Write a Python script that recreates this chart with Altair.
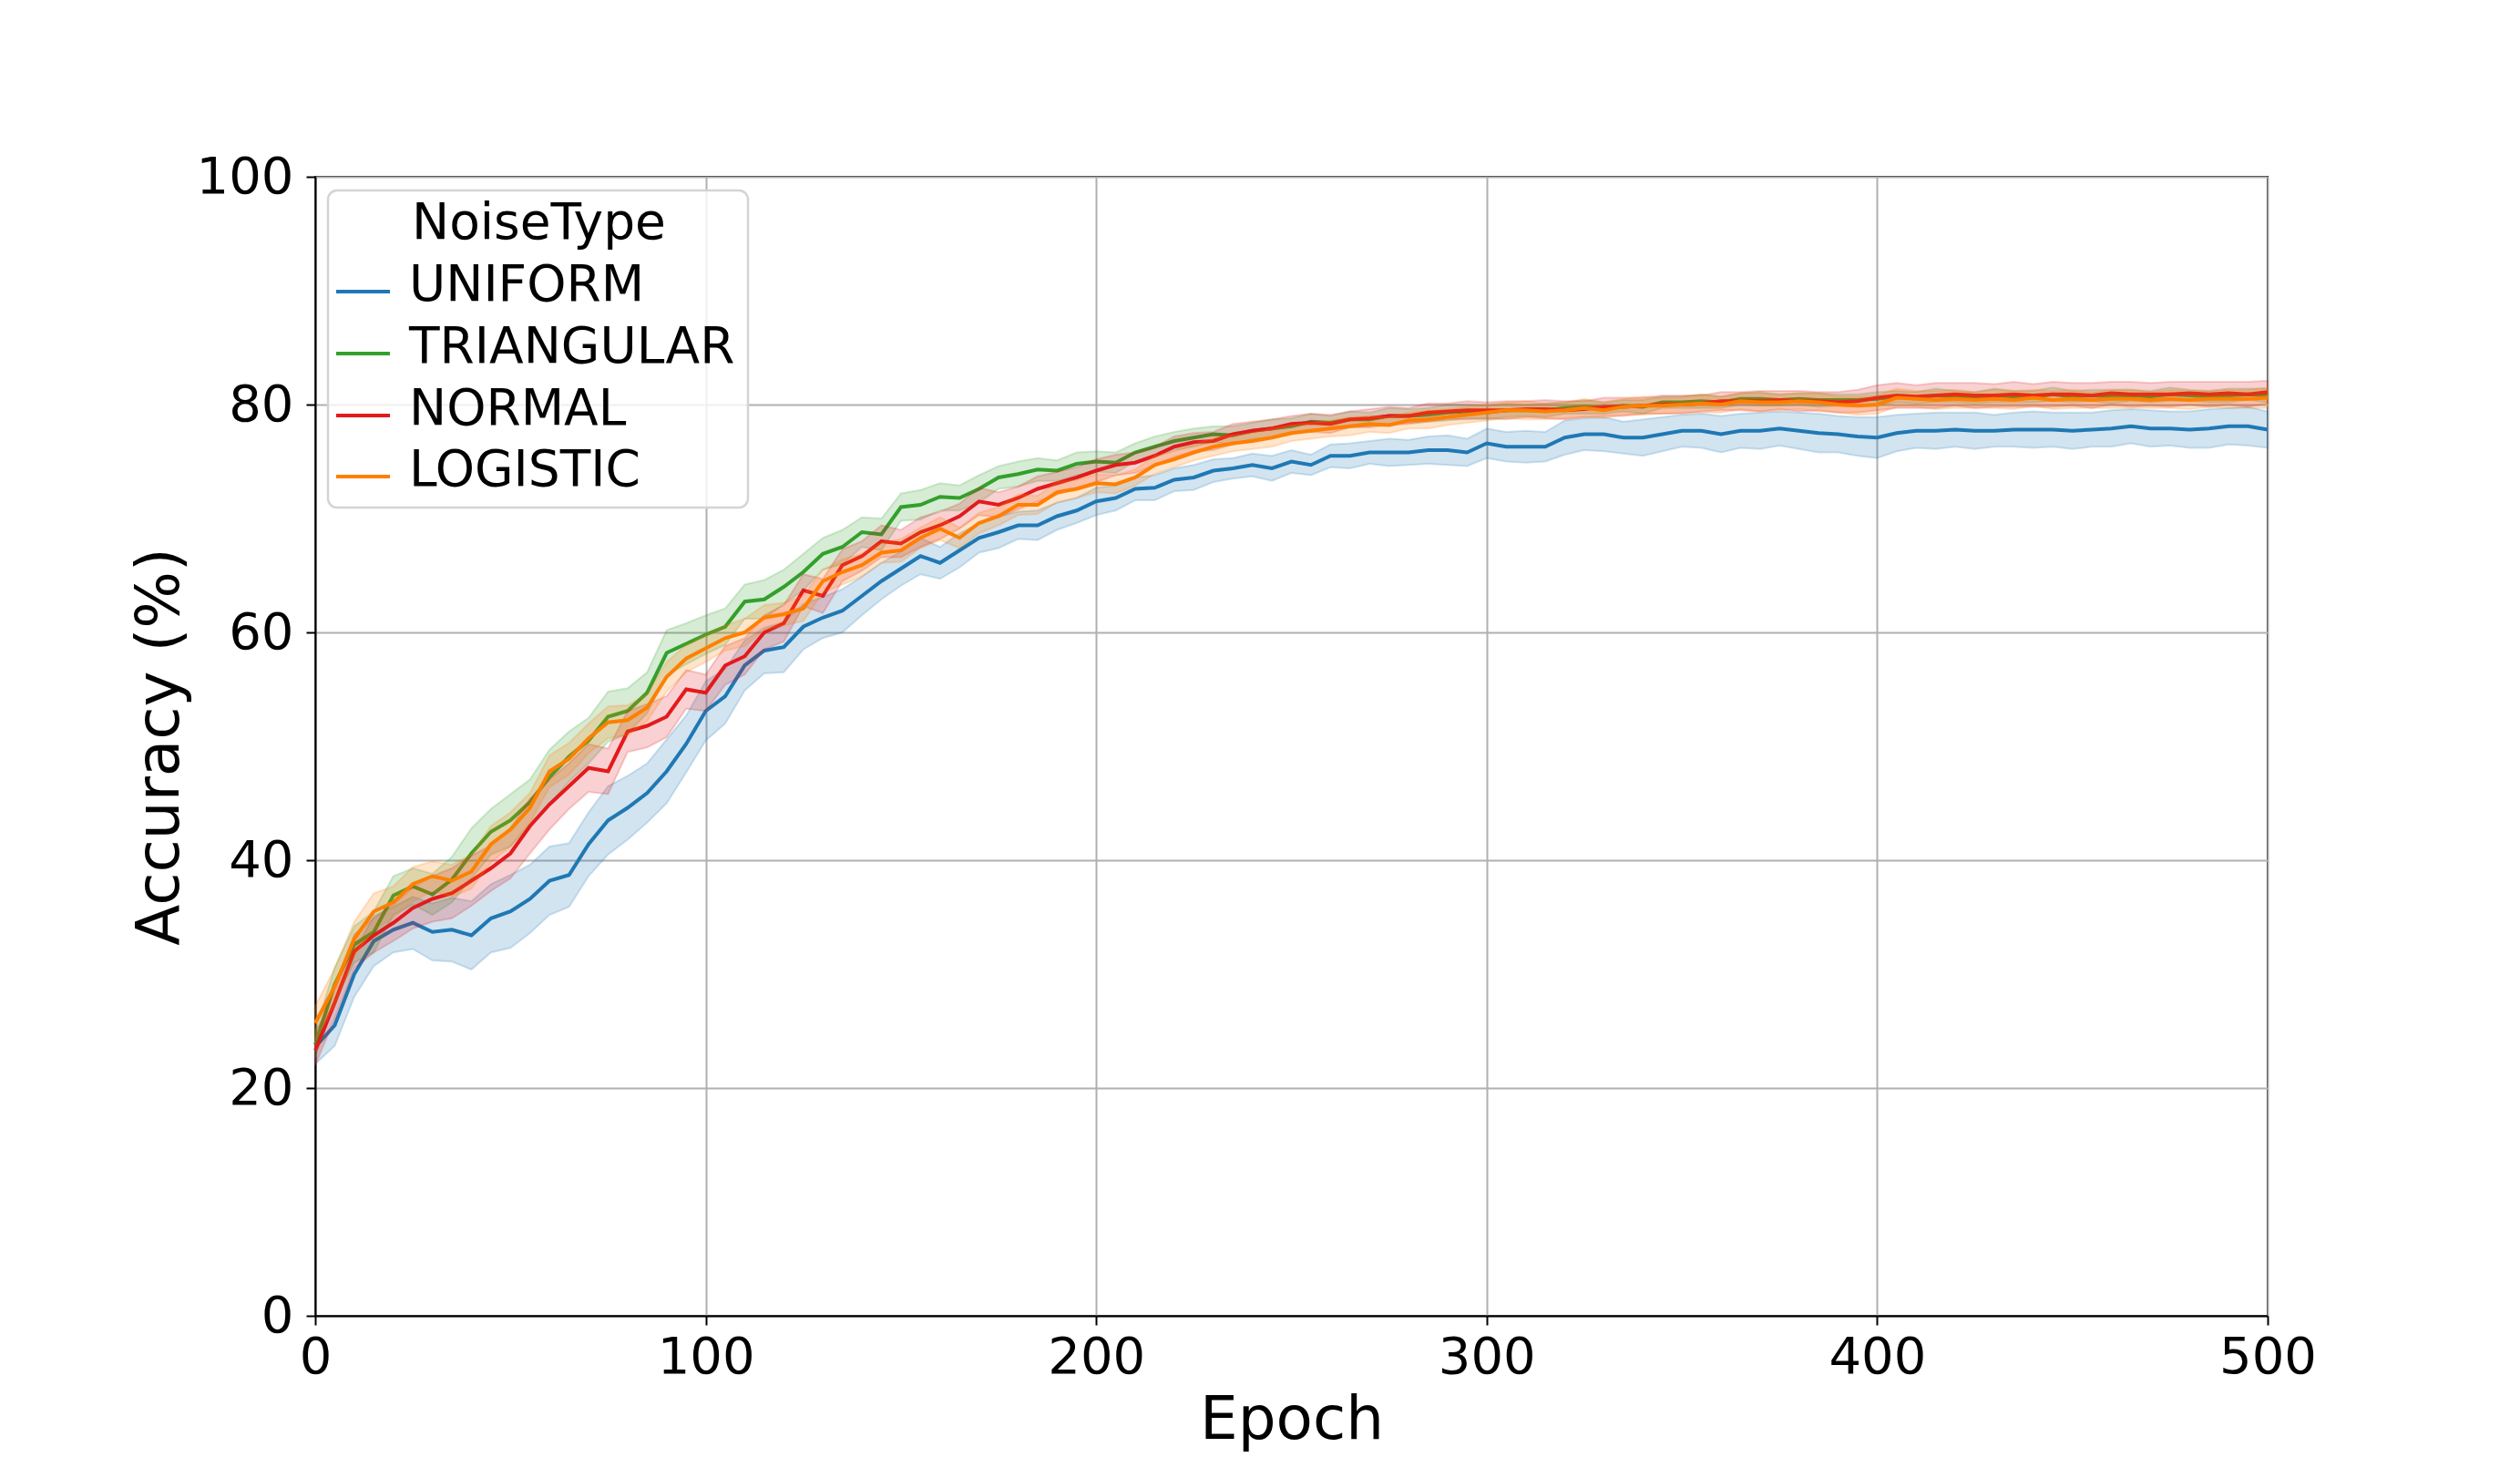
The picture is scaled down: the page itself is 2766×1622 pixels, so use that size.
import altair as alt
import pandas as pd

categories = ["UNIFORM", "TRIANGULAR", "NORMAL", "LOGISTIC"]
colors = ["#1f78b4", "#33a02c", "#e31a1c", "#ff7f00"]
epochs = list(range(0, 501, 5))

uniform = [
    23.6, 25.5, 30.0, 32.9, 33.9, 34.5, 33.7, 33.9, 33.4, 34.9, 35.5, 36.6, 38.2, 38.7, 41.4, 43.5, 44.6, 45.9, 47.8, 50.2, 53.1,
    54.4, 57.1, 58.4, 58.7, 60.5, 61.3, 61.9, 63.2, 64.5, 65.6, 66.7, 66.1, 67.2, 68.3, 68.8, 69.4, 69.4, 70.2, 70.7, 71.5,
    71.8, 72.6, 72.7, 73.4, 73.6, 74.2, 74.4, 74.7, 74.4, 75.0, 74.7, 75.5, 75.5, 75.8, 75.8, 75.8, 76.0, 76.0, 75.8, 76.6,
    76.3, 76.3, 76.3, 77.1, 77.4, 77.4, 77.1, 77.1, 77.4, 77.7, 77.7, 77.4, 77.7, 77.7, 77.9, 77.7, 77.5, 77.4, 77.2, 77.1,
    77.5, 77.7, 77.7, 77.8, 77.7, 77.7, 77.8, 77.8, 77.8, 77.7, 77.8, 77.9, 78.1, 77.9, 77.9, 77.8, 77.9, 78.1, 78.1, 77.8,
]
triangular = [
    23.8, 29.1, 32.6, 33.7, 36.9, 37.7, 37.0, 38.3, 40.6, 42.5, 43.5, 45.1, 47.3, 49.1, 50.5, 52.6, 53.1, 54.7, 58.2, 59.0, 59.8,
    60.5, 62.7, 62.9, 64.0, 65.3, 66.9, 67.5, 68.8, 68.6, 71.0, 71.2, 71.9, 71.8, 72.6, 73.6, 73.9, 74.3, 74.2, 74.8, 75.0,
    74.9, 75.8, 76.3, 76.8, 77.1, 77.4, 77.3, 77.7, 77.9, 78.1, 78.5, 78.4, 78.7, 78.7, 79.0, 79.0, 79.1, 79.3, 79.4, 79.3,
    79.5, 79.5, 79.5, 79.7, 79.8, 79.7, 79.9, 79.8, 80.2, 80.2, 80.3, 80.2, 80.5, 80.5, 80.4, 80.5, 80.4, 80.4, 80.4, 80.5,
    80.7, 80.6, 80.8, 80.7, 80.6, 80.8, 80.7, 80.7, 80.9, 80.7, 80.8, 80.7, 80.8, 80.7, 80.9, 80.8, 80.7, 80.8, 80.9, 80.8,
]
normal = [
    23.3, 27.5, 32.0, 33.4, 34.5, 35.8, 36.6, 37.1, 38.2, 39.3, 40.6, 43.0, 44.9, 46.5, 48.1, 47.8, 51.3, 51.8, 52.6, 55.0, 54.7,
    57.1, 57.9, 60.0, 60.8, 63.7, 63.2, 65.9, 66.7, 68.0, 67.8, 68.8, 69.4, 70.2, 71.5, 71.2, 71.8, 72.6, 73.1, 73.6, 74.2,
    74.7, 74.9, 75.5, 76.3, 76.7, 76.8, 77.4, 77.7, 77.9, 78.3, 78.4, 78.3, 78.7, 78.8, 79.0, 79.0, 79.3, 79.4, 79.5, 79.5,
    79.5, 79.6, 79.6, 79.5, 79.6, 79.8, 79.8, 79.9, 80.0, 80.0, 80.1, 80.3, 80.3, 80.3, 80.4, 80.3, 80.3, 80.2, 80.3, 80.6,
    80.8, 80.7, 80.8, 80.9, 80.8, 80.8, 80.9, 80.8, 80.9, 80.9, 80.8, 81.0, 80.9, 80.9, 80.9, 81.0, 80.9, 81.0, 80.9, 81.1,
]
logistic = [
    25.7, 28.9, 33.1, 35.5, 36.3, 37.9, 38.6, 38.2, 39.0, 41.4, 42.7, 44.6, 47.8, 48.9, 50.7, 52.1, 52.3, 53.4, 56.1, 57.7, 58.6,
    59.5, 60.0, 61.3, 61.6, 62.1, 64.5, 65.3, 65.9, 67.0, 67.2, 68.3, 69.1, 68.3, 69.6, 70.2, 71.2, 71.2, 72.3, 72.6, 73.1,
    73.0, 73.6, 74.7, 75.2, 75.8, 76.3, 76.6, 76.8, 77.1, 77.5, 77.7, 77.9, 78.1, 78.3, 78.2, 78.6, 78.7, 78.9, 79.1, 79.3,
    79.5, 79.5, 79.4, 79.5, 79.7, 79.5, 79.8, 79.9, 79.9, 80.0, 80.1, 80.0, 80.3, 80.2, 80.2, 80.3, 80.2, 80.0, 79.9, 80.0,
    80.6, 80.5, 80.4, 80.5, 80.4, 80.5, 80.4, 80.6, 80.4, 80.5, 80.4, 80.5, 80.5, 80.4, 80.5, 80.4, 80.5, 80.5, 80.5, 80.6,
]

# half-widths of the shaded confidence bands
uniform_band = [
    1.5, 1.8, 2.0, 2.2, 2.0, 2.3, 2.5, 2.8, 3.0, 3.0, 3.2, 3.0, 3.0, 2.8, 2.8, 3.0, 2.8, 2.6, 2.8, 2.5, 2.6,
    2.4, 2.2, 2.0, 2.2, 2.0, 1.8, 1.9, 1.7, 1.6, 1.5, 1.6, 1.4, 1.5, 1.3, 1.4, 1.2, 1.3, 1.2, 1.1, 1.2,
    1.1, 1.0, 1.1, 1.0, 1.1, 1.0, 0.9, 1.0, 1.1, 1.0, 0.9, 1.0, 1.1, 1.0, 1.2, 1.1, 1.2, 1.3, 1.2, 1.3,
    1.3, 1.4, 1.3, 1.5, 1.4, 1.5, 1.4, 1.6, 1.5, 1.4, 1.5, 1.6, 1.5, 1.6, 1.5, 1.6, 1.7, 1.6, 1.7, 1.8,
    1.6, 1.5, 1.6, 1.5, 1.6, 1.4, 1.5, 1.6, 1.5, 1.6, 1.5, 1.6, 1.5, 1.6, 1.5, 1.6, 1.7, 1.6, 1.7, 1.6,
]
triangular_band = [
    1.2, 1.5, 1.6, 1.8, 1.7, 1.6, 1.8, 2.0, 2.2, 2.0, 2.3, 2.0, 2.4, 2.2, 2.0, 2.2, 2.0, 1.8, 2.0, 1.8, 1.7,
    1.6, 1.5, 1.7, 1.5, 1.6, 1.4, 1.5, 1.3, 1.4, 1.2, 1.3, 1.2, 1.1, 1.2, 1.0, 1.1, 1.0, 0.9, 1.0, 0.9,
    0.9, 0.8, 0.9, 0.8, 0.8, 0.7, 0.8, 0.7, 0.8, 0.7, 0.7, 0.6, 0.7, 0.6, 0.7, 0.6, 0.6, 0.7, 0.6, 0.6,
    0.6, 0.5, 0.6, 0.5, 0.6, 0.5, 0.5, 0.6, 0.5, 0.5, 0.6, 0.5, 0.5, 0.6, 0.5, 0.5, 0.6, 0.5, 0.5, 0.6,
    0.5, 0.5, 0.6, 0.5, 0.5, 0.6, 0.5, 0.5, 0.6, 0.5, 0.5, 0.6, 0.5, 0.5, 0.6, 0.5, 0.5, 0.6, 0.5, 0.6,
]
normal_band = [
    1.3, 1.4, 1.5, 1.5, 1.6, 1.8, 2.0, 2.2, 2.2, 2.0, 2.2, 2.4, 2.2, 2.0, 2.1, 2.0, 1.8, 1.9, 1.8, 1.7, 1.6,
    1.7, 1.6, 1.5, 1.6, 1.4, 1.5, 1.4, 1.3, 1.4, 1.2, 1.3, 1.2, 1.1, 1.2, 1.1, 1.0, 1.1, 1.0, 0.9, 1.0,
    0.9, 0.9, 0.8, 0.9, 0.8, 0.8, 0.9, 0.8, 0.8, 0.7, 0.8, 0.8, 0.7, 0.8, 0.8, 0.7, 0.8, 0.7, 0.8, 0.7,
    0.8, 0.7, 0.8, 0.8, 0.7, 0.8, 0.8, 0.7, 0.8, 0.8, 0.7, 0.8, 0.8, 0.9, 0.8, 0.9, 0.8, 0.9, 1.0, 1.1,
    1.1, 1.0, 1.1, 1.0, 1.1, 1.0, 1.1, 1.0, 1.1, 1.0, 1.1, 1.0, 1.1, 1.0, 1.1, 1.0, 1.1, 1.0, 1.1, 1.0,
]
logistic_band = [
    1.5, 1.6, 1.5, 1.6, 1.4, 1.5, 1.3, 1.4, 1.5, 1.6, 1.5, 1.3, 1.4, 1.4, 1.3, 1.4, 1.3, 1.2, 1.3, 1.2, 1.2,
    1.1, 1.2, 1.1, 1.0, 1.1, 1.0, 1.1, 1.0, 0.9, 1.0, 0.9, 1.0, 0.9, 0.9, 0.8, 0.9, 0.8, 0.9, 0.8, 0.8,
    0.8, 0.7, 0.8, 0.7, 0.7, 0.8, 0.7, 0.7, 0.8, 0.7, 0.7, 0.7, 0.8, 0.7, 0.7, 0.7, 0.8, 0.7, 0.7, 0.7,
    0.7, 0.8, 0.7, 0.7, 0.8, 0.7, 0.7, 0.8, 0.7, 0.7, 0.8, 0.7, 0.7, 0.8, 0.7, 0.7, 0.8, 0.7, 0.8, 0.8,
    0.8, 0.7, 0.8, 0.8, 0.7, 0.8, 0.8, 0.7, 0.8, 0.8, 0.7, 0.8, 0.8, 0.7, 0.8, 0.8, 0.7, 0.8, 0.8, 0.9,
]

x_ticks = [0, 100, 200, 300, 400, 500]
y_ticks = [0, 20, 40, 60, 80, 100]

series = [uniform, triangular, normal, logistic]
bands = [uniform_band, triangular_band, normal_band, logistic_band]

FONT = "DejaVu Sans"
W, H = 2143, 1250

x_axis = alt.Axis(
    values=x_ticks, title="Epoch", grid=True, labelFlush=False,
    titleX=W / 2, titleY=134, titleBaseline="alphabetic", titleAlign="center",
    tickSize=10, labelPadding=8,
)
y_axis = alt.Axis(
    values=y_ticks, title="Accuracy (%)", grid=True, labelFlush=False,
    titleAngle=270, titleX=-151, titleY=H / 2, titleBaseline="alphabetic",
    titleAlign="center", tickSize=10, labelPadding=14,
)
x_scale = alt.Scale(domain=[0, 500], nice=False, zero=False)
y_scale = alt.Scale(domain=[0, 100], nice=False)

layers = []
for cat, col, vals, hw in zip(categories, colors, series, bands):
    df = pd.DataFrame({
        "Epoch": epochs,
        "Accuracy": vals,
        "lo": [v - h for v, h in zip(vals, hw)],
        "hi": [v + h for v, h in zip(vals, hw)],
        "NoiseType": cat,
    })
    band = alt.Chart(df).mark_area(
        color=col, fillOpacity=0.2, stroke=col, strokeOpacity=0.2, strokeWidth=2
    ).encode(
        x=alt.X("Epoch:Q", scale=x_scale, axis=x_axis),
        y=alt.Y("lo:Q", scale=y_scale, axis=y_axis),
        y2="hi:Q",
    )
    line = alt.Chart(df).mark_line(color=col, strokeWidth=4).encode(
        x=alt.X("Epoch:Q", scale=x_scale, axis=x_axis),
        y=alt.Y("Accuracy:Q", scale=y_scale, axis=y_axis),
    )
    layers += [band, line]

# legend (drawn inside the plot, top-left)
one = pd.DataFrame({"t": ["NoiseType"]})
layers.append(
    alt.Chart(one).mark_rect(
        fill="white", fillOpacity=0.8, stroke="#d4d4d4", strokeWidth=2.5, cornerRadius=10
    ).encode(x=alt.value(14), x2=alt.value(475), y=alt.value(15), y2=alt.value(363))
)
layers.append(
    alt.Chart(one).mark_text(
        align="left", baseline="alphabetic", fontSize=55, font=FONT, color="black"
    ).encode(x=alt.value(106), y=alt.value(68), text="t:N")
)
row_y = [126, 194, 262, 329]
for cat, col, ry in zip(categories, colors, row_y):
    d = pd.DataFrame({"NoiseType": [cat]})
    layers.append(
        alt.Chart(d).mark_rule(color=col, strokeWidth=4).encode(
            x=alt.value(23), x2=alt.value(82), y=alt.value(ry)
        )
    )
    layers.append(
        alt.Chart(d).mark_text(
            align="left", baseline="alphabetic", fontSize=55, font=FONT, color="black"
        ).encode(x=alt.value(103), y=alt.value(ry + 10), text="NoiseType:N")
    )

chart = (
    alt.layer(*layers)
    .properties(
        width=W, height=H,
        padding={"left": 338, "top": 186, "right": 260, "bottom": 150},
        autosize=alt.AutoSizeParams(type="none"),
    )
    .configure(font=FONT)
    .configure_view(stroke="black", strokeWidth=2)
    .configure_axis(
        gridColor="#b0b0b0", gridWidth=2, gridOpacity=1,
        domainColor="black", domainWidth=2,
        tickColor="black", tickWidth=2,
        labelFontSize=56, labelColor="black", labelFont=FONT,
        titleFontSize=66, titleColor="black", titleFontWeight="normal", titleFont=FONT,
    )
)

chart.save("out.html", embed_options={"renderer": "svg", "actions": False})
